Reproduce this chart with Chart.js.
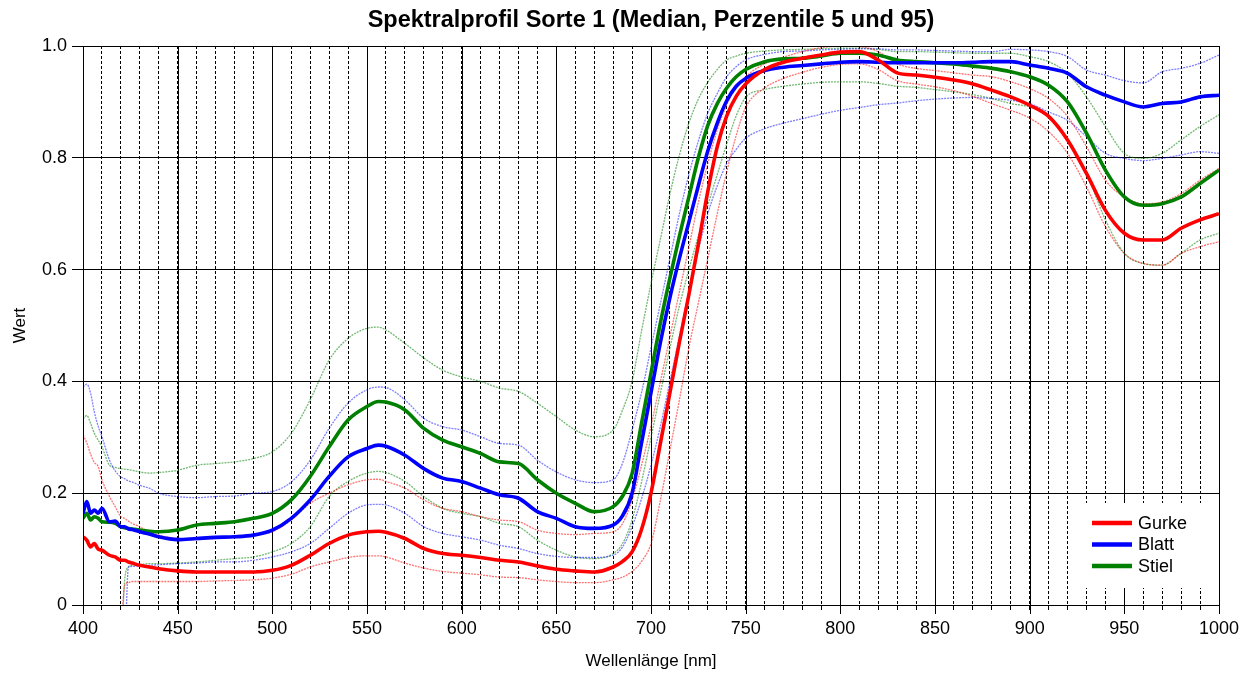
<!DOCTYPE html>
<html>
<head>
<meta charset="utf-8">
<title>Spektralprofil Sorte 1</title>
<script src="https://cdn.jsdelivr.net/npm/chart.js@4.4.0/dist/chart.umd.min.js"></script>
<style>
  html, body { margin: 0; padding: 0; background: #fff; }
  #wrap { width: 1248px; height: 673px; }
</style>
</head>
<body>
<div id="wrap"><canvas id="spektrum" width="1248" height="673"></canvas></div>
<script>
// Wellenlängen in nm (dichter am Anfang und in der Flanke)
const wellenlaenge = [
  400, 402, 404, 406, 408, 410, 414, 417, 420, 422, 424, 426,
  430, 435, 440, 450, 460, 470, 480, 490, 500, 510, 520, 530, 540, 550,
  556, 560, 570, 580, 590, 600, 610, 620, 630, 640, 650, 660, 670, 680,
  685, 690, 695, 700, 705, 710, 715, 720, 725, 730, 735, 740, 745, 750,
  760, 770, 780, 790, 800, 810, 820, 830, 840, 850, 860, 870, 880, 890, 900, 910, 920, 930, 940, 950, 960, 970, 980, 990, 1000
];

// Median
const gurkeMedian = [
  0.122, 0.116, 0.104, 0.110, 0.100, 0.098, 0.089, 0.086, 0.080, 0.080, 0.077, 0.075,
  0.071, 0.068, 0.065, 0.061, 0.059, 0.059, 0.059, 0.059, 0.062, 0.071, 0.089, 0.110, 0.125, 0.131,
  0.132, 0.130, 0.119, 0.101, 0.092, 0.089, 0.085, 0.080, 0.077, 0.070, 0.064, 0.061, 0.059, 0.068,
  0.078, 0.095, 0.135, 0.200, 0.290, 0.380, 0.470, 0.555, 0.645, 0.740, 0.820, 0.875, 0.910, 0.932,
  0.958, 0.971, 0.978, 0.984, 0.989, 0.990, 0.975, 0.952, 0.948, 0.944, 0.939, 0.932, 0.921, 0.909, 0.894, 0.874, 0.832, 0.772, 0.706, 0.665, 0.653, 0.653, 0.674, 0.689, 0.700
];
const blattMedian = [
  0.164, 0.185, 0.164, 0.170, 0.164, 0.173, 0.149, 0.150, 0.140, 0.140, 0.136, 0.135,
  0.131, 0.127, 0.122, 0.117, 0.119, 0.121, 0.122, 0.125, 0.134, 0.155, 0.188, 0.230, 0.265, 0.280,
  0.286, 0.284, 0.268, 0.244, 0.227, 0.221, 0.209, 0.197, 0.191, 0.167, 0.155, 0.140, 0.137, 0.143,
  0.160, 0.200, 0.290, 0.380, 0.470, 0.550, 0.620, 0.685, 0.750, 0.812, 0.862, 0.902, 0.928, 0.942,
  0.956, 0.962, 0.965, 0.968, 0.971, 0.972, 0.971, 0.970, 0.970, 0.970, 0.970, 0.971, 0.972, 0.972, 0.966, 0.960, 0.951, 0.927, 0.912, 0.900, 0.891, 0.897, 0.900, 0.909, 0.912
];
const stielMedian = [
  0.155, 0.164, 0.152, 0.158, 0.155, 0.149, 0.148, 0.146, 0.140, 0.138, 0.137, 0.136,
  0.134, 0.132, 0.131, 0.134, 0.143, 0.146, 0.149, 0.155, 0.164, 0.188, 0.230, 0.283, 0.331, 0.355,
  0.364, 0.363, 0.349, 0.316, 0.295, 0.283, 0.271, 0.256, 0.253, 0.224, 0.200, 0.182, 0.167, 0.176,
  0.195, 0.235, 0.325, 0.415, 0.505, 0.585, 0.660, 0.730, 0.800, 0.858, 0.897, 0.925, 0.945, 0.958,
  0.972, 0.977, 0.978, 0.982, 0.987, 0.987, 0.984, 0.975, 0.972, 0.970, 0.968, 0.964, 0.960, 0.954, 0.945, 0.930, 0.900, 0.844, 0.778, 0.730, 0.715, 0.718, 0.730, 0.754, 0.778
];

// Perzentil 95
const gurkeP95 = [
  0.304, 0.290, 0.270, 0.255, 0.248, 0.224, 0.194, 0.176, 0.158, 0.155, 0.150, 0.146,
  0.140, 0.131, 0.125, 0.119, 0.117, 0.119, 0.121, 0.125, 0.131, 0.152, 0.182, 0.200, 0.215, 0.224,
  0.225, 0.221, 0.209, 0.188, 0.173, 0.167, 0.158, 0.152, 0.149, 0.134, 0.128, 0.126, 0.128, 0.131,
  0.146, 0.188, 0.250, 0.320, 0.400, 0.480, 0.560, 0.640, 0.720, 0.790, 0.850, 0.895, 0.925, 0.945,
  0.968, 0.980, 0.990, 0.997, 1.000, 0.999, 0.990, 0.968, 0.960, 0.956, 0.952, 0.948, 0.945, 0.936, 0.924, 0.906, 0.874, 0.820, 0.760, 0.730, 0.718, 0.721, 0.736, 0.760, 0.781
];
const blattP95 = [
  0.390, 0.395, 0.379, 0.345, 0.320, 0.301, 0.259, 0.240, 0.229, 0.226, 0.222, 0.220,
  0.214, 0.209, 0.200, 0.194, 0.192, 0.194, 0.195, 0.200, 0.203, 0.220, 0.259, 0.316, 0.361, 0.385,
  0.390, 0.389, 0.367, 0.334, 0.319, 0.313, 0.301, 0.289, 0.286, 0.259, 0.238, 0.224, 0.219, 0.224,
  0.254, 0.313, 0.380, 0.460, 0.540, 0.620, 0.700, 0.770, 0.830, 0.880, 0.915, 0.945, 0.963, 0.975,
  0.985, 0.990, 0.991, 0.993, 0.994, 0.995, 0.995, 0.993, 0.993, 0.992, 0.991, 0.990, 0.990, 0.994, 0.993, 0.990, 0.981, 0.957, 0.948, 0.938, 0.934, 0.954, 0.960, 0.969, 0.984
];
const stielP95 = [
  0.333, 0.339, 0.325, 0.307, 0.295, 0.283, 0.250, 0.246, 0.244, 0.243, 0.242, 0.241,
  0.238, 0.236, 0.237, 0.241, 0.250, 0.253, 0.256, 0.262, 0.274, 0.307, 0.367, 0.438, 0.477, 0.495,
  0.497, 0.492, 0.468, 0.442, 0.420, 0.408, 0.400, 0.388, 0.382, 0.361, 0.337, 0.313, 0.301, 0.313,
  0.349, 0.400, 0.490, 0.575, 0.655, 0.735, 0.805, 0.862, 0.905, 0.935, 0.958, 0.975, 0.982, 0.987,
  0.991, 0.993, 0.994, 0.995, 0.996, 0.996, 0.994, 0.990, 0.990, 0.989, 0.988, 0.987, 0.987, 0.987, 0.981, 0.972, 0.951, 0.909, 0.856, 0.808, 0.799, 0.808, 0.832, 0.856, 0.877
];

// Perzentil 5 (unter 420 nm negativ, also unterhalb der Achse)
const gurkeP5 = [
  0.000, -0.020, -0.050, -0.080, -0.100, -0.100, -0.100, -0.080, -0.050, 0.035, 0.040, 0.042,
  0.042, 0.042, 0.042, 0.042, 0.042, 0.043, 0.044, 0.045, 0.048, 0.055, 0.068, 0.077, 0.085, 0.088,
  0.088, 0.086, 0.075, 0.066, 0.060, 0.057, 0.054, 0.050, 0.049, 0.045, 0.042, 0.040, 0.040, 0.045,
  0.050, 0.060, 0.078, 0.110, 0.188, 0.277, 0.367, 0.460, 0.540, 0.620, 0.700, 0.775, 0.840, 0.890,
  0.925, 0.942, 0.953, 0.962, 0.967, 0.968, 0.958, 0.938, 0.932, 0.927, 0.920, 0.910, 0.897, 0.885, 0.871, 0.847, 0.808, 0.748, 0.677, 0.629, 0.611, 0.608, 0.629, 0.641, 0.650
];
const blattP5 = [
  -0.100, -0.100, -0.100, -0.100, -0.100, -0.100, -0.100, -0.100, -0.100, -0.080, 0.068, 0.069,
  0.070, 0.071, 0.072, 0.074, 0.075, 0.077, 0.077, 0.080, 0.086, 0.095, 0.110, 0.137, 0.164, 0.179,
  0.180, 0.179, 0.164, 0.140, 0.128, 0.122, 0.116, 0.107, 0.101, 0.092, 0.087, 0.085, 0.085, 0.089,
  0.104, 0.140, 0.190, 0.250, 0.320, 0.400, 0.480, 0.560, 0.635, 0.700, 0.750, 0.790, 0.815, 0.835,
  0.852, 0.862, 0.870, 0.878, 0.885, 0.890, 0.895, 0.898, 0.902, 0.905, 0.907, 0.908, 0.906, 0.903, 0.897, 0.882, 0.867, 0.838, 0.808, 0.799, 0.795, 0.799, 0.805, 0.811, 0.808
];
const stielP5 = [
  -0.100, -0.100, -0.100, -0.100, -0.100, -0.100, -0.100, -0.100, -0.080, 0.045, 0.068, 0.071,
  0.072, 0.074, 0.074, 0.075, 0.077, 0.080, 0.083, 0.086, 0.095, 0.110, 0.140, 0.194, 0.221, 0.236,
  0.239, 0.237, 0.221, 0.194, 0.173, 0.164, 0.158, 0.146, 0.140, 0.116, 0.098, 0.086, 0.083, 0.092,
  0.110, 0.152, 0.220, 0.300, 0.380, 0.460, 0.535, 0.600, 0.660, 0.715, 0.770, 0.825, 0.875, 0.908,
  0.922, 0.928, 0.932, 0.935, 0.936, 0.936, 0.933, 0.928, 0.926, 0.922, 0.918, 0.913, 0.906, 0.897, 0.891, 0.874, 0.832, 0.772, 0.689, 0.629, 0.611, 0.608, 0.629, 0.653, 0.665
];

const FONT = '"Liberation Sans", Arial, sans-serif';
Chart.defaults.font.family = FONT;
Chart.defaults.color = '#000';

function punkte(werte) {
  return wellenlaenge.map((nm, i) => ({ x: nm, y: werte[i] }));
}

function median(label, werte, farbe) {
  return {
    label: label, data: punkte(werte), imLegende: true,
    borderColor: farbe, borderWidth: 3.6,
    pointRadius: 0, fill: false, cubicInterpolationMode: 'monotone'
  };
}

function perzentil(werte, farbe) {
  return {
    data: punkte(werte),
    borderColor: farbe, borderWidth: 1.3, borderDash: [2, 1],
    pointRadius: 0, fill: false, cubicInterpolationMode: 'monotone'
  };
}

// durchgezogene Linien alle 50 nm, längere Striche an der Achse
const raster = {
  id: 'raster',
  beforeDatasetsDraw(chart) {
    const { ctx, chartArea: a, scales: { x } } = chart;
    ctx.save();
    ctx.strokeStyle = '#000';
    ctx.lineWidth = 1;
    x.ticks.filter(t => Math.round(t.value) % 50 === 0).forEach(t => {
      const px = Math.round(x.getPixelForValue(t.value)) + 0.5;
      ctx.beginPath();
      ctx.moveTo(px, a.top);
      ctx.lineTo(px, a.bottom + 9);
      ctx.stroke();
    });
    ctx.restore();
  },
  afterDraw(chart) {
    const { ctx, chartArea: a } = chart;
    ctx.save();

    // Legende unten rechts im Diagramm
    const eintraege = chart.data.datasets.filter(d => d.imLegende);
    const bw = 135, bh = 85;
    const left = a.right - bw - 1, top = a.bottom - bh - 17;
    ctx.fillStyle = '#fff';
    ctx.fillRect(left, top, bw, bh);
    ctx.font = '18px ' + FONT;
    ctx.textBaseline = 'middle';
    ctx.textAlign = 'left';
    eintraege.forEach((d, i) => {
      const y = top + 20 + i * 21.5;
      ctx.strokeStyle = d.borderColor;
      ctx.lineWidth = 4.5;
      ctx.beginPath();
      ctx.moveTo(left + 9, y);
      ctx.lineTo(left + 49, y);
      ctx.stroke();
      ctx.fillStyle = '#000';
      ctx.fillText(d.label, left + 55, y + 1);
    });

    // Rahmen
    ctx.strokeStyle = '#000';
    ctx.lineWidth = 1;
    ctx.strokeRect(Math.round(a.left) + 0.5, Math.round(a.top) + 0.5,
                   Math.round(a.right) - Math.round(a.left), Math.round(a.bottom) - Math.round(a.top));

    // Titel über der Zeichenfläche
    ctx.fillStyle = '#000';
    ctx.font = 'bold 23.5px ' + FONT;
    ctx.textAlign = 'center';
    ctx.textBaseline = 'middle';
    ctx.fillText('Spektralprofil Sorte 1 (Median, Perzentile 5 und 95)', (a.left + a.right) / 2, 21);
    ctx.restore();
  }
};

new Chart('spektrum', {
  type: 'line',
  data: {
    datasets: [
      median('Gurke', gurkeMedian, '#ff0000'),
      median('Blatt', blattMedian, '#0000ff'),
      median('Stiel', stielMedian, '#008000'),
      perzentil(gurkeP95, 'rgba(255,0,0,0.55)'),
      perzentil(blattP95, 'rgba(0,0,255,0.5)'),
      perzentil(stielP95, 'rgba(0,128,0,0.55)'),
      perzentil(gurkeP5, 'rgba(255,0,0,0.55)'),
      perzentil(blattP5, 'rgba(0,0,255,0.5)'),
      perzentil(stielP5, 'rgba(0,128,0,0.55)')
    ]
  },
  options: {
    responsive: false,
    animation: false,
    devicePixelRatio: 1,
    layout: { padding: { top: 46, right: 29, left: 0, bottom: 0 } },
    plugins: {
      legend: { display: false },
      title: { display: false },
      tooltip: { enabled: false }
    },
    scales: {
      x: {
        type: 'linear', min: 400, max: 1000,
        ticks: {
          stepSize: 10, autoSkip: false, maxRotation: 0, padding: 8,
          font: { size: 18 },
          callback: v => (Math.round(v) % 50 === 0 ? Math.round(v) : '')
        },
        grid: { color: '#000', lineWidth: 1, tickLength: 5, tickColor: '#000' },
        border: { display: true, color: '#000', dash: [3, 2] },
        title: { display: true, text: 'Wellenlänge [nm]', font: { size: 17 }, padding: { top: 0, bottom: 1 } },
        afterFit(s) { s.height = 68; s.paddingLeft = 0; s.paddingRight = 0; }
      },
      y: {
        min: 0, max: 1,
        ticks: {
          stepSize: 0.2, padding: 5,
          font: { size: 18 },
          callback: v => (Math.abs(v) < 1e-9 ? '0' : v.toFixed(1))
        },
        grid: { color: '#000', lineWidth: 1, tickLength: 11, tickColor: '#000' },
        border: { display: true, color: '#000' },
        title: { display: true, text: 'Wert', font: { size: 17 }, padding: { top: 10, bottom: 0 } },
        afterFit(s) { s.width = 83; s.paddingTop = 0; s.paddingBottom = 0; }
      }
    }
  },
  plugins: [raster]
});
</script>
</body>
</html>
